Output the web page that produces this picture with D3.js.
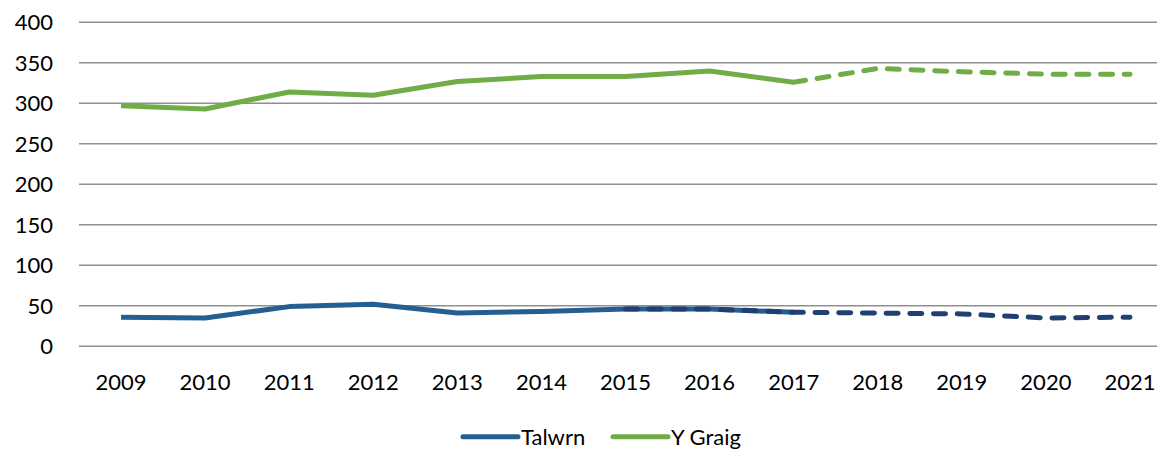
<!DOCTYPE html>
<html>
<head>
<meta charset="utf-8">
<script src="https://cdn.jsdelivr.net/npm/d3@7"></script>
<style>
  body { margin: 0; background: #fff; }
  svg text { font-family: Lato, 'Open Sans', sans-serif; fill: #000; }
</style>
</head>
<body>
<svg id="chart" width="1157" height="450"></svg>
<script>
// Data
var years = ['2009', '2010', '2011', '2012', '2013', '2014', '2015', '2016', '2017', '2018', '2019', '2020', '2021']
var yTicks = [0, 50, 100, 150, 200, 250, 300, 350, 400]

// Recorded values (solid lines), null where no value
var talwrn = [36, 35, 49, 52, 41, 43, 46, 46, 42, null, null, null, null]
var yGraig = [297, 293, 314, 310, 327, 333, 333, 340, 326, null, null, null, null]

// Projections (dashed lines)
var talwrnProj = [null, null, null, null, null, null, 46, 46, 42, 41, 40, 35, 36]
var yGraigProj = [null, null, null, null, null, null, null, null, 326, 343, 339, 336, 336]

var series = [
  { name: 'Talwrn', values: talwrn, color: '#255e91', dashed: false, legend: true },
  { name: 'Y Graig', values: yGraig, color: '#70ad47', dashed: false, legend: true },
  { name: 'Talwrn projection', values: talwrnProj, color: '#203f73', dashed: true, legend: false },
  { name: 'Y Graig projection', values: yGraigProj, color: '#70ad47', dashed: true, legend: false }
]

var svg = d3.select('#chart')
var plotLeft = 79
var plotRight = 1172 // plot runs past the picture edge, as in the reference
var plotTop = 22.3
var plotBottom = 346.3

var x = d3.scalePoint().domain(years).range([plotLeft, plotRight]).padding(0.5)
var y = d3.scaleLinear().domain([0, 400]).range([plotBottom, plotTop])

// Gridlines
svg.append('g')
  .selectAll('line')
  .data(yTicks)
  .join('line')
  .attr('x1', plotLeft)
  .attr('x2', plotRight)
  .attr('y1', function (d) { return y(d) })
  .attr('y2', function (d) { return y(d) })
  .attr('stroke', '#8f8f8f')
  .attr('stroke-width', 1.6)

// Y axis labels
svg.append('g')
  .selectAll('text')
  .data(yTicks)
  .join('text')
  .attr('x', 53)
  .attr('y', function (d) { return y(d) })
  .attr('dy', '0.36em')
  .attr('text-anchor', 'end')
  .style('font-size', '22px')
  .text(function (d) { return d })

// X axis labels
svg.append('g')
  .selectAll('text')
  .data(years)
  .join('text')
  .attr('x', function (d) { return x(d) })
  .attr('y', 390)
  .attr('text-anchor', 'middle')
  .style('font-size', '22px')
  .text(function (d) { return d })

// Lines
var line = d3.line()
  .defined(function (d) { return d != null })
  .x(function (d, i) { return x(years[i]) })
  .y(function (d) { return y(d) })

svg.append('g')
  .selectAll('path')
  .data(series)
  .join('path')
  .attr('d', function (s) { return line(s.values) })
  .attr('fill', 'none')
  .attr('stroke', function (s) { return s.color })
  .attr('stroke-width', 5)
  .attr('stroke-linejoin', 'round')
  .attr('stroke-linecap', function (s) { return s.dashed ? 'round' : 'butt' })
  .attr('stroke-dasharray', function (s) { return s.dashed ? '12 11.7' : null })

// Legend
var legendItems = series.filter(function (s) { return s.legend })
var legendX = [463, 613]
var legend = svg.append('g')
  .selectAll('g')
  .data(legendItems)
  .join('g')
  .attr('transform', function (s, i) { return 'translate(' + legendX[i] + ',436.7)' })

legend.append('line')
  .attr('x1', 0)
  .attr('x2', 55)
  .attr('stroke', function (s) { return s.color })
  .attr('stroke-width', 5)
  .attr('stroke-linecap', 'round')

legend.append('text')
  .attr('x', 58)
  .attr('dy', '0.36em')
  .style('font-size', '22px')
  .text(function (s) { return s.name })
</script>
</body>
</html>
